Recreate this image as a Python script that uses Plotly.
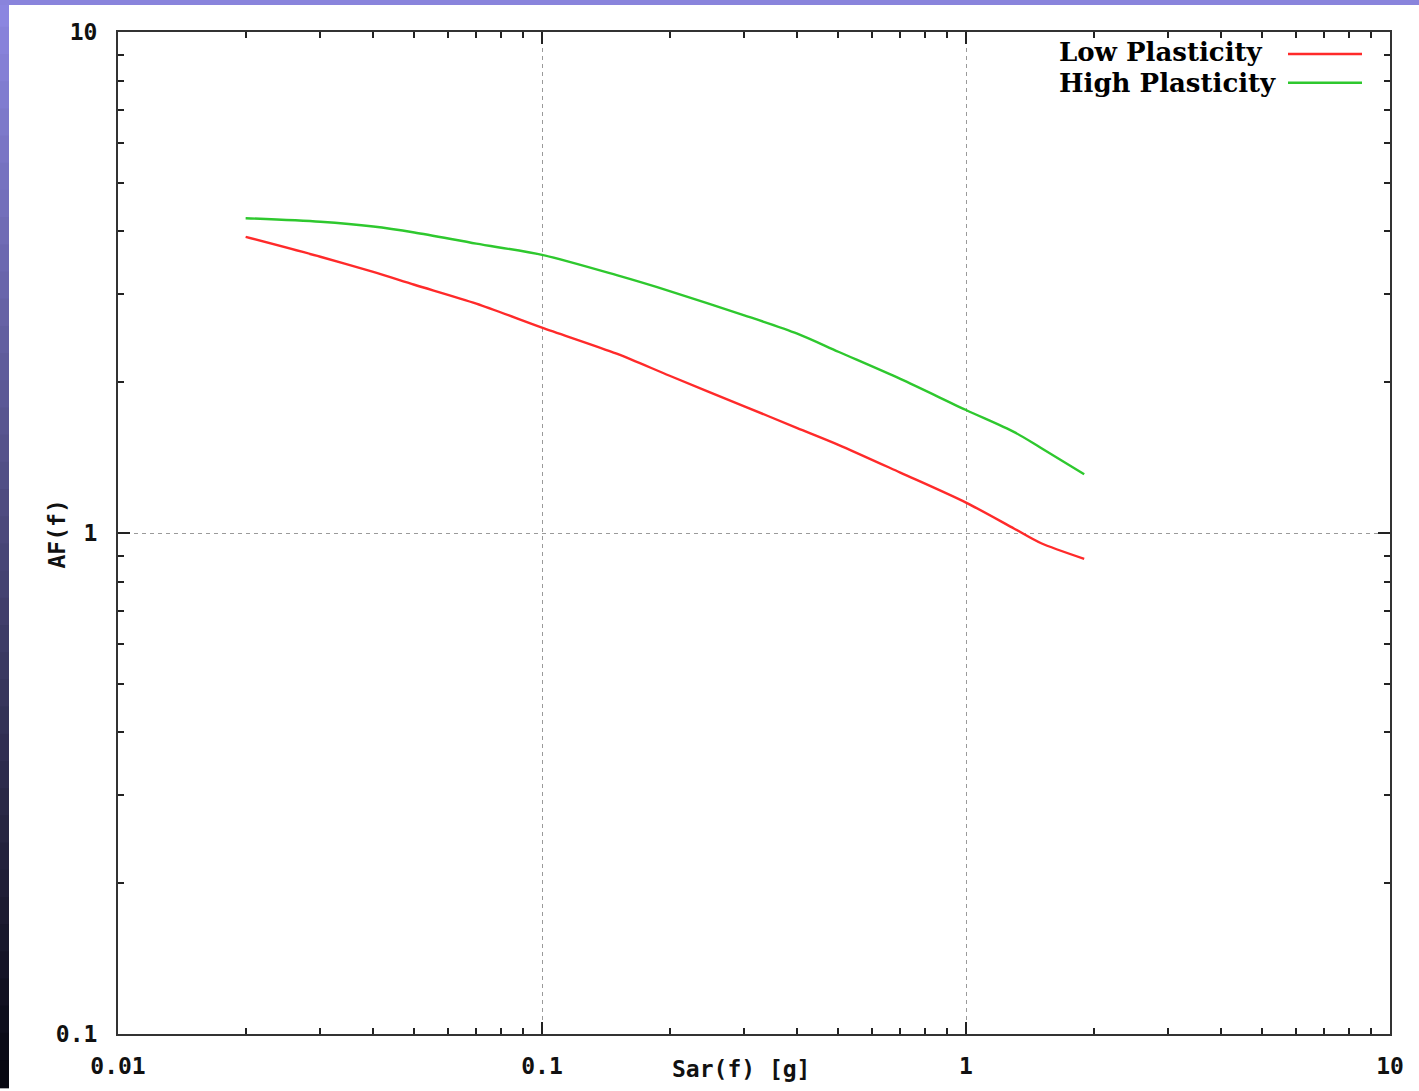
import plotly.graph_objects as go

# Data
sar = [0.02, 0.03, 0.04, 0.05, 0.07, 0.1, 0.15, 0.2, 0.3, 0.4, 0.5, 0.7, 1.0, 1.3, 1.5, 1.9]
af_low = [3.90, 3.56, 3.32, 3.13, 2.87, 2.57, 2.28, 2.06, 1.79, 1.62, 1.50, 1.32, 1.15, 1.02, 0.955, 0.888]
af_high = [4.25, 4.18, 4.09, 3.98, 3.78, 3.59, 3.27, 3.04, 2.72, 2.50, 2.30, 2.03, 1.76, 1.59, 1.48, 1.31]
series_names = ["Low Plasticity", "High Plasticity"]
series_colors = ["#ff2a2a", "#2ec82e"]
x_tickvals = [0.01, 0.1, 1, 10]
x_ticktext = ["0.01", "0.1", "1", "10"]
y_tickvals = [0.1, 1, 10]
y_ticktext = ["0.1", "1", "10"]

W, H = 1419, 1091
L, R, T, B = 118, 29, 32, 54
pw, ph = W - L - R, H - T - B


def px_x(px):
    return (px - L) / pw


def px_y(py):
    return (H - B - py) / ph


fig = go.Figure()
for name, ys, col in zip(series_names, [af_low, af_high], series_colors):
    fig.add_trace(go.Scatter(x=sar, y=ys, mode="lines", name=name,
                             line=dict(color=col, width=2.4, shape="spline", smoothing=0.8),
                             showlegend=False))

tickfont = dict(family="DejaVu Sans Mono", size=23, color="#111111", weight="bold")

axis_common = dict(
    type="log", showline=True, linecolor="#333333", linewidth=2, mirror="allticks",
    ticks="inside", ticklen=12, tickwidth=1.5, tickcolor="#222222",
    showgrid=True, gridcolor="#9a9a9a", griddash="4px,4px", gridwidth=1.4,
    zeroline=False, tickfont=tickfont,
    minor=dict(ticks="inside", ticklen=6, tickwidth=1.5, tickcolor="#222222",
               showgrid=False, dtick="D1"),
)

fig.update_xaxes(range=[-2, 1], tickvals=x_tickvals, ticktext=x_ticktext,
                 ticklabelstandoff=10, **axis_common)
fig.update_yaxes(range=[-1, 1], tickvals=y_tickvals, ticktext=y_ticktext,
                 ticklabelstandoff=14, **axis_common)

shapes = []
# slide background strips (left gradient + top band)
n = 40
top = (139, 134, 224)
bot = (8, 8, 18)
for i in range(n):
    f = i / (n - 1)
    c = tuple(int(top[k] + (bot[k] - top[k]) * f) for k in range(3))
    y0 = H * i / n
    y1 = H * (i + 1) / n
    shapes.append(dict(type="rect", xref="paper", yref="paper",
                       x0=px_x(0), x1=px_x(9), y0=px_y(y1 + 0.5), y1=px_y(y0 - 0.5),
                       fillcolor="rgb(%d,%d,%d)" % c, line=dict(width=0), layer="above"))
shapes.append(dict(type="rect", xref="paper", yref="paper",
                   x0=px_x(0), x1=px_x(W), y0=px_y(5), y1=px_y(0),
                   fillcolor="#8984dc", line=dict(width=0), layer="above"))

# legend line samples
for i, col in enumerate(series_colors):
    yy = px_y(54 + 29 * i)
    shapes.append(dict(type="line", xref="paper", yref="paper",
                       x0=px_x(1288), x1=px_x(1362), y0=yy, y1=yy,
                       line=dict(color=col, width=2.5)))

annotations = []
for i, name in enumerate(series_names):
    annotations.append(dict(text="<b>%s</b>" % name, xref="paper", yref="paper",
                            x=px_x(1057), y=px_y(52 + 31 * i), xanchor="left",
                            yanchor="middle", showarrow=False,
                            font=dict(family="DejaVu Serif", size=26, color="#000000")))

annotations.append(dict(text="<b>Sar(f) [g]</b>", xref="paper", yref="paper",
                        x=px_x(741), y=px_y(1072), xanchor="center", yanchor="middle",
                        showarrow=False, font=dict(family="DejaVu Sans Mono", size=23,
                                                   color="#111111")))
annotations.append(dict(text="<b>AF(f)</b>", xref="paper", yref="paper",
                        x=px_x(57), y=px_y(535), xanchor="center", yanchor="middle",
                        textangle=-90, showarrow=False,
                        font=dict(family="DejaVu Sans Mono", size=23, color="#111111")))

fig.update_layout(
    width=W, height=H,
    margin=dict(l=L, r=R, t=T, b=B),
    paper_bgcolor="white", plot_bgcolor="white",
    shapes=shapes, annotations=annotations,
    showlegend=False,
)

fig.write_html("out.html", config={"displayModeBar": False},
               post_script="document.body.style.margin='0';document.body.style.overflow='hidden';")
